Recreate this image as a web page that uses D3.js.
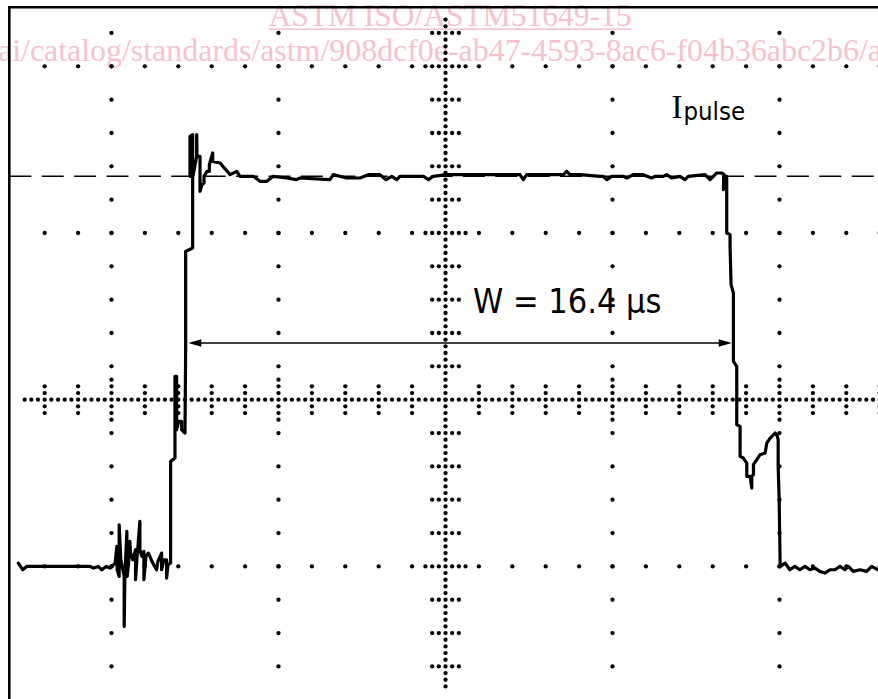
<!DOCTYPE html>
<html>
<head>
<meta charset="utf-8">
<script src="https://cdn.jsdelivr.net/npm/d3@7"></script>
<style>
  html, body { margin: 0; padding: 0; background: #fff; }
  svg { display: block; }
</style>
</head>
<body>
<div id="chart"></div>
<script>
// scope trace of the pulse: [time (µs), level (divisions)]
const trace = [
    [-12.79, -0.98], [-12.66, -1.02], [-12.54, -1.00], [-12.05, -1.00], [-11.03, -1.00], [-10.64, -1.00],
    [-10.54, -1.01], [-10.40, -1.00], [-10.29, -1.02], [-10.16, -1.00], [-10.04, -1.01], [-9.89, -0.98],
    // noise burst before the edge
    [-9.84, -0.88], [-9.83, -1.02], [-9.77, -1.06], [-9.77, -0.75], [-9.72, -0.96], [-9.62, -1.06],
    [-9.62, -1.36], [-9.60, -1.06], [-9.54, -0.79], [-9.53, -1.06], [-9.48, -0.96], [-9.45, -0.85],
    [-9.43, -0.92], [-9.36, -0.96], [-9.28, -0.90], [-9.28, -1.08], [-9.24, -0.96], [-9.15, -0.73],
    [-9.15, -0.90], [-9.09, -0.94], [-9.03, -0.91], [-9.03, -1.08], [-8.97, -0.94], [-8.90, -0.92],
    [-8.85, -0.94], [-8.79, -0.97], [-8.65, -1.02], [-8.61, -0.97], [-8.50, -0.92], [-8.50, -1.02],
    [-8.43, -0.96], [-8.35, -0.96], [-8.35, -1.07], [-8.31, -0.99], [-8.23, -0.98],
    // rising edge + overshoot
    [-8.23, -0.37], [-8.10, -0.35], [-8.10, 0.14], [-8.05, 0.14], [-8.05, -0.18], [-7.99, -0.13],
    [-7.90, -0.13], [-7.90, -0.18], [-7.86, -0.19], [-7.80, -0.20], [-7.78, 0.30], [-7.78, 0.89],
    [-7.57, 0.91], [-7.57, 1.59], [-7.65, 1.58], [-7.65, 1.34], [-7.56, 1.34], [-7.45, 1.46],
    [-7.45, 1.59], [-7.44, 1.46], [-7.35, 1.46], [-7.35, 1.25], [-7.29, 1.29], [-7.23, 1.30],
    [-7.23, 1.34], [-7.14, 1.37], [-7.07, 1.37], [-7.07, 1.41], [-6.97, 1.48], [-6.97, 1.43],
    [-6.75, 1.42], [-6.45, 1.35], [-6.25, 1.37], [-6.15, 1.34], [-5.75, 1.34], [-5.55, 1.31],
    [-5.35, 1.31], [-5.16, 1.34], [-4.75, 1.33], [-4.46, 1.32],
    // flat top
    [-4.36, 1.33], [-3.46, 1.32], [-3.36, 1.35], [-2.96, 1.33], [-2.56, 1.33], [-2.31, 1.35],
    [-1.96, 1.35], [-1.78, 1.32], [-1.61, 1.34], [-1.46, 1.32], [-1.36, 1.34], [-0.66, 1.34],
    [-0.51, 1.32], [-0.37, 1.34], [0.04, 1.35], [2.23, 1.35], [2.33, 1.32], [2.43, 1.35],
    [3.53, 1.35], [3.63, 1.37], [3.73, 1.35], [4.03, 1.35], [4.63, 1.34], [4.72, 1.34],
    [4.83, 1.32], [4.98, 1.34], [5.32, 1.34], [5.43, 1.33], [5.62, 1.35], [5.92, 1.35],
    [6.17, 1.33], [6.27, 1.34], [6.52, 1.34], [6.62, 1.35], [6.77, 1.33], [7.02, 1.34],
    [7.17, 1.32], [7.27, 1.34], [7.77, 1.35], [7.92, 1.32], [8.02, 1.34], [8.12, 1.36],
    [8.27, 1.36], [8.34, 1.35],
    // falling edge + undershoot bump
    [8.32, 1.26], [8.33, 1.34], [8.42, 1.34], [8.42, 1.00], [8.52, 0.99], [8.52, 0.92],
    [8.55, 0.69], [8.62, 0.64], [8.62, 0.23], [8.72, 0.20], [8.72, -0.15], [8.82, -0.16],
    [8.82, -0.34], [8.92, -0.35], [9.02, -0.38], [9.02, -0.46], [9.12, -0.46], [9.17, -0.53],
    [9.17, -0.46], [9.22, -0.45], [9.22, -0.39], [9.32, -0.36], [9.42, -0.33], [9.57, -0.32],
    [9.62, -0.26], [9.72, -0.23], [9.87, -0.20], [9.92, -0.21], [9.96, -0.24], [9.96, -0.40],
    [9.99, -0.60], [10.02, -1.00],
    // baseline after
    [10.17, -0.98], [10.31, -1.02], [10.46, -1.00], [10.61, -1.02], [10.76, -1.00], [10.91, -1.02],
    [11.06, -1.01], [11.21, -1.03], [11.36, -1.04], [11.51, -1.02], [11.66, -1.02], [11.81, -1.00],
    [11.96, -1.02], [12.06, -1.00], [12.21, -1.03], [12.41, -1.02], [12.61, -1.03], [12.76, -1.00],
    [12.95, -1.02]
];

const pulseLevel = 1.34;              // dashed I_pulse line (div)
const widthSpan = [-7.70, 8.57];      // W arrow ends (µs)
const widthLevel = 0.34;              // W arrow height (div)
const widthLabel = "W = 16.4 µs";
const levelLabel = ["I", "pulse"];
const watermark = [
    "ASTM ISO/ASTM51649-15",
    "ai/catalog/standards/astm/908dcf0e-ab47-4593-8ac6-f04b36abc2b6/a"
];

const usPerDiv = 5;
const minorDiv = 0.2;      // 5 minor per div
const axisDot = 0.04;      // dotted centre axes step

var width = 878, height = 699;
var frameLeft = 9.3, frameTop = 7.2;

var x = d3.scaleLinear()
    .domain([-2 * usPerDiv, 2 * usPerDiv])
    .range([111.5, 779.5]);

var y = d3.scaleLinear()
    .domain([-2, 2])
    .range([733.1, 66.3]);

// graticule position helpers, in divisions
function gx(d) { return x(d * usPerDiv); }
function gy(d) { return y(d); }

var svg = d3.select("#chart")
    .append("svg")
    .attr("width", width)
    .attr("height", height);

svg.append("rect")
    .attr("width", width)
    .attr("height", height)
    .attr("fill", "#fff");

// watermark from the scanned page
var wm = svg.append("g")
    .attr("fill", "#f6c2cf")
    .attr("font-family", "'Liberation Serif', 'Times New Roman', serif");

var wm1 = wm.append("text")
    .attr("x", 450)
    .attr("y", 25.5)
    .attr("text-anchor", "middle")
    .attr("font-size", 31.5)
    .text(watermark[0]);

var wmLen = wm1.node().getComputedTextLength();
wm.append("rect")
    .attr("x", 450 - wmLen / 2)
    .attr("y", 28.4)
    .attr("width", wmLen)
    .attr("height", 1.6);

wm.append("text")
    .attr("x", -2)
    .attr("y", 61)
    .attr("font-size", 31.5)
    .attr("textLength", 884)
    .attr("lengthAdjust", "spacingAndGlyphs")
    .text(watermark[1]);

// graticule dots
var dots = [];
var nx = Math.ceil((width - gx(0)) / (gx(1) - gx(0))) + 1;
var ny = 3;

// major rows and columns: dots on every minor division
[-2, -1, 1, 2].forEach(function (m) {
    for (var k = -Math.round(nx / minorDiv); k <= Math.round(nx / minorDiv); k++) {
        if (k === 0) continue;
        dots.push([k * minorDiv, m]);
    }
    for (var k = -Math.round(ny / minorDiv); k <= Math.round(ny / minorDiv); k++) {
        if (k === 0) continue;
        dots.push([m, k * minorDiv]);
    }
});

// centre axes, finely dotted
for (var j = -Math.round(nx / axisDot); j <= Math.round(nx / axisDot); j++) {
    dots.push([j * axisDot, 0]);
}
for (var j = -Math.round(ny / axisDot); j <= Math.round(ny / axisDot); j++) {
    dots.push([0, j * axisDot]);
}

// tick marks on the centre axes
for (var k = -Math.round(nx / minorDiv); k <= Math.round(nx / minorDiv); k++) {
    if (k === 0) continue;
    var reach = k % 5 === 0 ? 3 : 2;
    for (var s = -reach; s <= reach; s++) {
        if (s !== 0) dots.push([k * minorDiv, s * axisDot]);
    }
}
for (var k = -Math.round(ny / minorDiv); k <= Math.round(ny / minorDiv); k++) {
    if (k === 0) continue;
    var reach = k % 5 === 0 ? 3 : 2;
    for (var s = -reach; s <= reach; s++) {
        if (s !== 0) dots.push([s * axisDot, k * minorDiv]);
    }
}

dots = dots.filter(function (d) {
    var px = gx(d[0]), py = gy(d[1]);
    return px >= 20 && px <= width + 2 && py >= 14 && py <= 692;
});

svg.append("g")
    .attr("class", "graticule")
    .selectAll("circle")
    .data(dots)
    .enter()
    .append("circle")
    .attr("cx", function (d) { return gx(d[0]); })
    .attr("cy", function (d) { return gy(d[1]); })
    .attr("r", 2.15)
    .attr("fill", "#000");

// frame (left + top edges of the screen)
svg.append("path")
    .attr("d", "M" + frameLeft + "," + height + "V" + frameTop + "H" + width)
    .attr("fill", "none")
    .attr("stroke", "#000")
    .attr("stroke-width", 2.6);

// I_pulse reference
svg.append("line")
    .attr("x1", frameLeft)
    .attr("x2", width)
    .attr("y1", y(pulseLevel))
    .attr("y2", y(pulseLevel))
    .attr("stroke", "#000")
    .attr("stroke-width", 1.6)
    .attr("stroke-dasharray", "22,10.4");

// the trace
var line = d3.line()
    .x(function (d) { return x(d[0]); })
    .y(function (d) { return y(d[1]); });

svg.append("path")
    .datum(trace)
    .attr("d", line)
    .attr("fill", "none")
    .attr("stroke", "#000")
    .attr("stroke-width", 3.2)
    .attr("stroke-linejoin", "round")
    .attr("stroke-linecap", "round");

// W width marker
var ay = y(widthLevel), ax1 = x(widthSpan[0]), ax2 = x(widthSpan[1]);
svg.append("line")
    .attr("x1", ax1 + 6)
    .attr("x2", ax2 - 6)
    .attr("y1", ay)
    .attr("y2", ay)
    .attr("stroke", "#000")
    .attr("stroke-width", 1.5);

svg.append("path")
    .attr("d", "M" + ax1 + "," + ay + "l13,-3.8v7.6z" +
               "M" + ax2 + "," + ay + "l-13,-3.8v7.6z")
    .attr("fill", "#000");

var sans = "'DejaVu Sans Condensed', 'DejaVu Sans', Verdana, sans-serif";

svg.append("text")
    .attr("x", 473)
    .attr("y", 313)
    .attr("font-family", sans)
    .style("font-stretch", "condensed")
    .attr("font-size", 34)
    .attr("fill", "#000")
    .text(widthLabel);

var lbl = svg.append("text")
    .attr("x", 671.5)
    .attr("y", 118.3)
    .attr("fill", "#000");

lbl.append("tspan")
    .attr("font-family", "'Liberation Serif', 'Times New Roman', serif")
    .attr("font-size", 33)
    .text(levelLabel[0]);

lbl.append("tspan")
    .attr("font-family", sans)
    .style("font-stretch", "condensed")
    .attr("font-size", 25.5)
    .attr("dx", 1)
    .attr("dy", 1.2)
    .text(levelLabel[1]);
</script>
</body>
</html>
